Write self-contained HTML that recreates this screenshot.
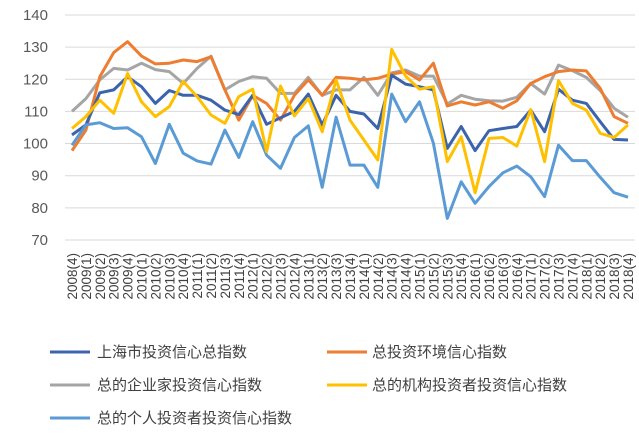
<!DOCTYPE html>
<html><head><meta charset="utf-8"><style>
html,body{margin:0;padding:0;background:#fff;}
svg{display:block;}
text{font-family:"Liberation Sans","Noto Sans CJK SC",sans-serif;}
</style></head><body>
<svg id="s" width="639" height="444" viewBox="0 0 639 444" xmlns="http://www.w3.org/2000/svg">
<rect width="639" height="444" fill="#fff"/>
<g id="grid" stroke="#d9d9d9" stroke-width="1"></g>
<g id="yl" font-size="15" fill="#595959" text-anchor="end"></g>
<g id="xl" font-size="13.5" fill="#404040"></g>
<g id="lines" fill="none" stroke-width="3" stroke-linejoin="round"></g>
<g font-size="15" fill="#404040">
<line x1="50" y1="352" x2="90" y2="352" stroke="#3B64AD" stroke-width="3"/>
<text x="97" y="357">上海市投资信心总指数</text>
<line x1="327" y1="352" x2="367" y2="352" stroke="#ED7D31" stroke-width="3"/>
<text x="372" y="357">总投资环境信心指数</text>
<line x1="50" y1="385" x2="90" y2="385" stroke="#A5A5A5" stroke-width="3"/>
<text x="97" y="390">总的企业家投资信心指数</text>
<line x1="327" y1="385" x2="367" y2="385" stroke="#FFC000" stroke-width="3"/>
<text x="372" y="390">总的机构投资者投资信心指数</text>
<line x1="50" y1="418" x2="90" y2="418" stroke="#5B9BD5" stroke-width="3"/>
<text x="97" y="423">总的个人投资者投资信心指数</text>
</g>
</svg>
<script>
var NS="http://www.w3.org/2000/svg";
function Y(v){return 15+(140-v)*3.214;}
function X(i){return 72+13.9*i;}
var g=document.getElementById('grid'),yl=document.getElementById('yl'),xl=document.getElementById('xl'),L=document.getElementById('lines');
for(var v=70;v<=140;v+=10){var l=document.createElementNS(NS,'line');l.setAttribute('x1',65);l.setAttribute('x2',635);l.setAttribute('y1',Y(v));l.setAttribute('y2',Y(v));g.appendChild(l);
var t=document.createElementNS(NS,'text');t.setAttribute('x',48);t.setAttribute('y',Y(v)+5);t.textContent=v;yl.appendChild(t);}
var labs=[];labs.push('2008(4)');for(var y=2009;y<=2018;y++)for(var q=1;q<=4;q++)labs.push(y+'('+q+')');
labs.forEach(function(s,i){var t=document.createElementNS(NS,'text');var x=X(i)+5;t.setAttribute('x',x);t.setAttribute('y',253);t.setAttribute('text-anchor','end');t.setAttribute('transform','rotate(-90 '+x+' 253)');t.textContent=s;xl.appendChild(t);});
var D=[
['#A5A5A5',[110,114,119.8,123.4,122.9,125,123,122.4,118.7,123.4,127.2,116.7,119.3,120.8,120.3,115.6,115.6,120.6,115,116.7,116.7,120.6,115,122,122.9,121,121,112.3,115,113.8,113.3,113.2,114.4,118.7,115.4,124.4,122.7,120.6,116.5,111,108.2]],
['#ED7D31',[97.8,104.2,120.8,128.3,131.7,127.2,124.8,125,126,125.5,127,116.7,107.3,115,112.5,107.3,115,119.8,115,120.6,120.3,119.8,120.3,121.6,122.4,119.8,125,111.7,113,112,113,111,113.3,118.7,120.8,122.4,122.9,122.6,117.2,108.4,106.3]],
['#3B64AD',[102.7,105.8,115.8,116.7,120.8,117.7,112.5,116.5,115,115,113.5,110.4,109,115,106,108,110,115.4,105.8,115,110,109.2,104.7,121.3,118.5,117.7,116.7,98.5,105.3,97.8,104,104.7,105.3,110.4,103.7,116.9,113.5,112.5,106.8,101.3,101.1]],
['#5B9BD5',[99.5,105.8,106.5,104.7,104.9,102.1,93.8,106,97,94.6,93.6,104.2,95.7,106.8,96.4,92.3,101.9,105.5,86.4,108.2,93.3,93.3,86.4,115.4,106.8,113,100.1,76.7,88.1,81.4,86.6,90.9,93,89.7,83.5,99.5,94.7,94.7,89.5,84.7,83.3]],
['#FFC000',[104.7,108.4,113.5,109.4,121.8,113,108.4,111.5,119.3,114.6,108.9,106.3,114.6,116.9,97.5,117.9,108.6,114,103.7,119.8,107.3,101.1,94.9,129.3,121,116.9,117.7,94.4,102.1,84.7,101.6,101.9,99.2,110.6,94.4,119.6,112.5,110.4,103.2,101.9,105.8]]
];
D.forEach(function(s){var p=document.createElementNS(NS,'polyline');p.setAttribute('stroke',s[0]);p.setAttribute('points',s[1].map(function(v,i){return X(i).toFixed(1)+','+Y(v).toFixed(1);}).join(' '));L.appendChild(p);});
</script>
</body></html>
